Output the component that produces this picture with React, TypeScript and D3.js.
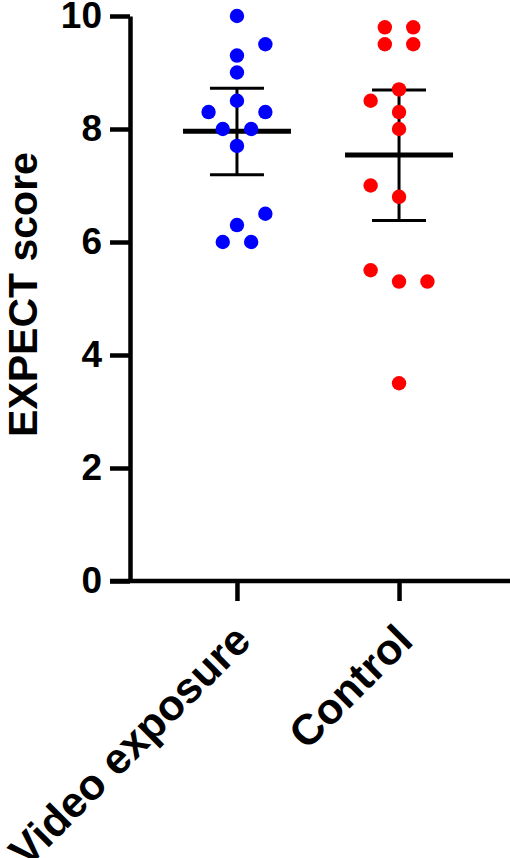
import React, { useEffect, useRef } from 'react';
import * as d3 from 'd3';

// groups and raw scores
const groups = ['Video exposure', 'Control'];
const videoScores = [10, 9.3, 9.5, 9.0, 8.3, 8.5, 8.3, 8.0, 8.0, 7.7, 6.3, 6.5, 6.0, 6.0];
const controlScores = [9.8, 9.8, 9.5, 9.5, 8.7, 8.5, 8.3, 8.0, 6.8, 7.0, 5.5, 5.3, 5.3, 3.5];

// mean with 95% CI
const means = [7.96, 7.54];
const ciLow = [7.19, 6.38];
const ciHigh = [8.72, 8.69];

const yTicks = [0, 2, 4, 6, 8, 10];

const W = 510;
const H = 858;

type Dot = { v: number; slot: number };

// Prism-like scatter: points within one dot height share a row
function arrange(values: number[], y: (v: number) => number, diam: number, side: number): Dot[] {
  const order = values.map((v, i) => ({ v, i })).sort((a, b) => b.v - a.v || a.i - b.i);
  const bins: { v: number; i: number }[][] = [];
  order.forEach(p => {
    const last = bins[bins.length - 1];
    if (last && y(p.v) - y(last[0].v) < diam) last.push(p);
    else bins.push([p]);
  });
  const out: Dot[] = [];
  bins.forEach(bin => {
    const members = bin.slice().sort((a, b) => a.i - b.i);
    const n = members.length;
    const same = members.every(m => m.v === members[0].v);
    members.forEach((m, k) => {
      let slot: number;
      if (n % 2 === 1 || same) slot = (k - (n - 1) / 2) * 2;
      else slot = k === 0 ? 0 : side * 2 * Math.ceil(k / 2) * (k % 2 === 1 ? 1 : -1);
      out.push({ v: m.v, slot });
    });
  });
  return out;
}

const ScatterChart: React.FC = () => {
  const svgRef = useRef<SVGSVGElement>(null);

  useEffect(() => {
    if (!svgRef.current) return;
    const svg = d3.select(svgRef.current);
    svg.selectAll('*').remove();

    const font = "'Liberation Sans', Arial, sans-serif";
    const colors = ['#0000ff', '#ff0000'];
    const r = 7.2;
    const half = 14.2;

    const y = d3.scaleLinear().domain([0, 10]).range([581, 16]);
    const x = d3.scalePoint<string>().domain(groups).range([130, 506]).padding(0.66);
    const axisX = 130;

    svg.append('rect').attr('width', W).attr('height', H).attr('fill', '#fff');

    // Y axis
    const yAxis = svg.append('g')
      .attr('transform', `translate(${axisX},0)`)
      .call(d3.axisLeft(y).tickValues(yTicks).tickSize(20).tickPadding(8).tickSizeOuter(0));
    yAxis.select('.domain').attr('stroke', '#000').attr('stroke-width', 4.5);
    yAxis.selectAll('.tick line').attr('stroke', '#000').attr('stroke-width', 4.5);
    yAxis.selectAll('.tick text')
      .attr('font-family', font)
      .attr('font-weight', 700)
      .attr('font-size', 37)
      .attr('fill', '#000');

    // X axis
    const xAxis = svg.append('g')
      .attr('transform', `translate(0,${y(0)})`)
      .call(d3.axisBottom(x).tickSize(20).tickSizeOuter(0).tickFormat(() => ''));
    xAxis.select('.domain').attr('d', `M${axisX - 20},0H${W}`).attr('stroke', '#000').attr('stroke-width', 4.5);
    xAxis.selectAll('.tick line').attr('stroke', '#000').attr('stroke-width', 4.5);

    // rotated category labels
    svg.selectAll('.xlab')
      .data(groups)
      .enter().append('text')
      .attr('class', 'xlab')
      .attr('transform', d => `translate(${(x(d) || 0) + 16},${y(0) + 62}) rotate(-45)`)
      .attr('text-anchor', 'end')
      .attr('font-family', font)
      .attr('font-weight', 700)
      .attr('font-size', 43)
      .attr('fill', '#000')
      .text(d => d);

    // Y title
    svg.append('text')
      .attr('transform', `translate(37,${(y(0) + y(10)) / 2 - 4}) rotate(-90)`)
      .attr('text-anchor', 'middle')
      .attr('font-family', font)
      .attr('font-weight', 700)
      .attr('font-size', 41)
      .attr('fill', '#000')
      .text('EXPECT score');

    // mean and CI bars
    groups.forEach((g, i) => {
      const cx = x(g) || 0;
      const bars = svg.append('g').attr('stroke', '#000');
      bars.append('line')
        .attr('x1', cx).attr('x2', cx)
        .attr('y1', y(ciLow[i])).attr('y2', y(ciHigh[i]))
        .attr('stroke-width', 3);
      [ciLow[i], ciHigh[i]].forEach(v => {
        bars.append('line')
          .attr('x1', cx - 27).attr('x2', cx + 27)
          .attr('y1', y(v)).attr('y2', y(v))
          .attr('stroke-width', 3);
      });
      bars.append('line')
        .attr('x1', cx - 54).attr('x2', cx + 54)
        .attr('y1', y(means[i])).attr('y2', y(means[i]))
        .attr('stroke-width', 4.8);
    });

    // points
    const sets = [videoScores, controlScores];
    const sides = [1, -1];
    sets.forEach((vals, i) => {
      const cx = x(groups[i]) || 0;
      const dots = arrange(vals, y, 14.5, sides[i]);
      svg.append('g')
        .selectAll('circle')
        .data(dots)
        .enter().append('circle')
        .attr('cx', d => cx + d.slot * half)
        .attr('cy', d => y(d.v))
        .attr('r', r)
        .attr('fill', colors[i]);
    });
  }, []);

  return (
    <svg
      ref={svgRef}
      width={W}
      height={H}
      viewBox={`0 0 ${W} ${H}`}
      style={{ position: 'absolute', left: 0, top: 0, display: 'block' }}
    />
  );
};

export default function App() {
  return <ScatterChart />;
}
